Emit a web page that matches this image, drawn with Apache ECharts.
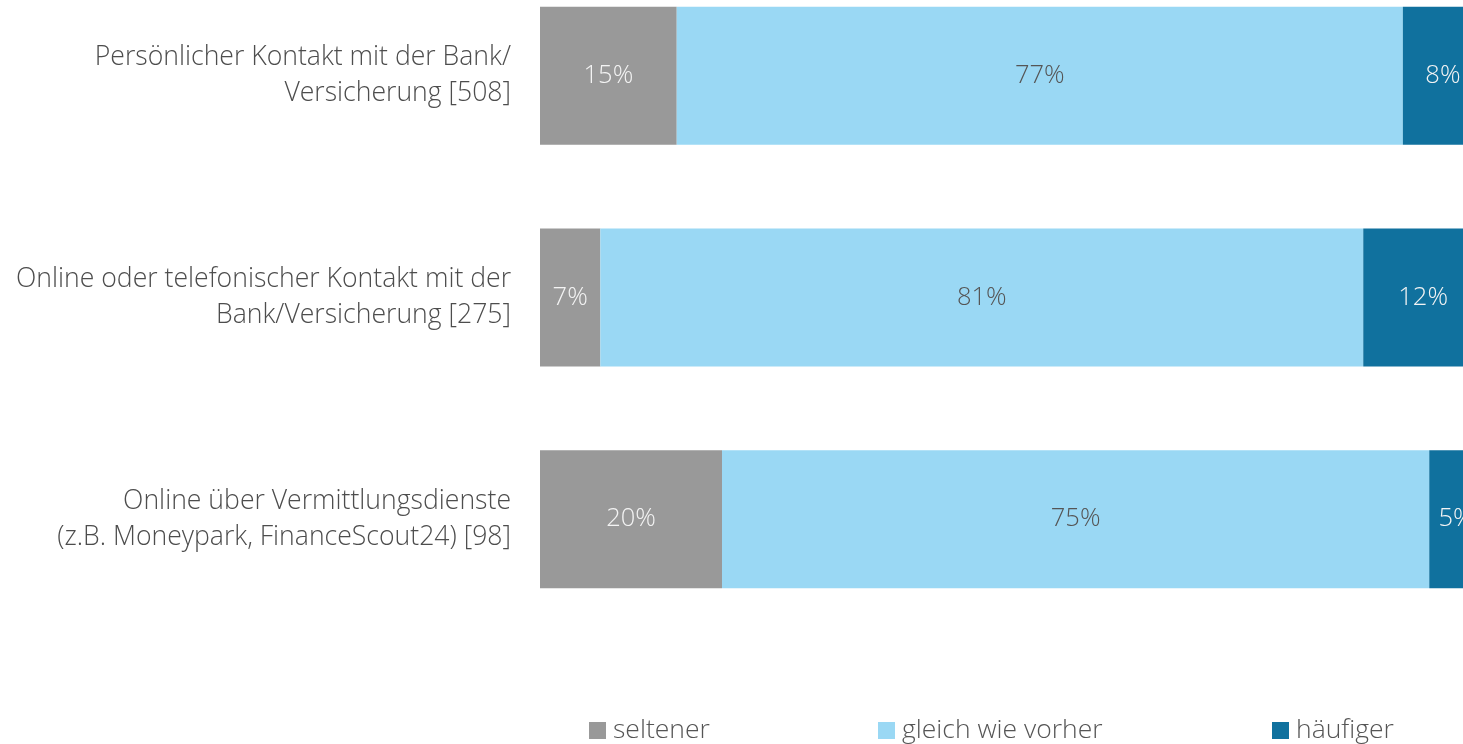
<!DOCTYPE html>
<html>
<head>
<meta charset="utf-8">
<script src="https://cdn.jsdelivr.net/npm/echarts@6/dist/echarts.min.js"></script>
<style>
html,body{margin:0;padding:0;background:#fff;overflow:hidden;width:1463px;height:744px;}
#c{position:absolute;left:0;top:-35px;width:1483px;height:779px;}
</style>
</head>
<body>
<div id="c"></div>
<script>
var categories = [
  'Persönlicher Kontakt mit der Bank/\nVersicherung [508]',
  'Online oder telefonischer Kontakt mit der\nBank/Versicherung [275]',
  'Online über Vermittlungsdienste\n(z.B. Moneypark, FinanceScout24) [98]'
];
var seriesNames = ['seltener', 'gleich wie vorher', 'häufiger'];
var seltener = [14.5, 6.4, 19.3];
var gleich = [77.0, 80.9, 75.0];
var haeufiger = [8.5, 12.7, 5.7];
var seltenerLabels = ['15%', '7%', '20%'];
var gleichLabels = ['77%', '81%', '75%'];
var haeufigerLabels = ['8%', '12%', '5%'];
var colors = ['#999999', '#9ad8f4', '#10719e'];
var labelColors = ['#f4f4f4', '#555555', '#f4f4f4'];

var FONT = '"Open Sans", "Noto Sans", sans-serif';
var chart = echarts.init(document.getElementById('c'), null, {renderer: 'canvas'});

function mkSeries(i, data, labels) {
  return {
    name: seriesNames[i],
    type: 'bar',
    stack: 'total',
    barWidth: 138,
    data: data,
    itemStyle: {color: colors[i]},
    label: {
      show: true,
      position: 'inside',
      color: labelColors[i],
      fontFamily: FONT,
      fontWeight: 300,
      fontSize: 25.5,
      formatter: function (p) { return labels[p.dataIndex]; }
    },
    emphasis: {disabled: true}
  };
}

function mkLegend(name, left) {
  return {
    data: [name],
    left: left,
    top: 752,
    padding: 0,
    itemWidth: 17,
    itemHeight: 17,
    itemGap: 0,
    icon: 'rect',
    textStyle: {color: '#555555', fontFamily: FONT, fontWeight: 300, fontSize: 26.5, padding: [0, 0, 0, 2]},
    selectedMode: false
  };
}

chart.setOption({
  animation: false,
  legend: [mkLegend(seriesNames[0], 589), mkLegend(seriesNames[1], 878), mkLegend(seriesNames[2], 1272)],
  grid: {left: 540, right: 0, top: 0, bottom: 114, containLabel: false},
  xAxis: {
    type: 'value', min: 0, max: 100,
    show: false
  },
  yAxis: {
    type: 'category',
    inverse: true,
    data: categories,
    axisLine: {show: false},
    axisTick: {show: false},
    axisLabel: {
      margin: 29,
      color: '#4d4d4d',
      fontFamily: FONT,
      fontWeight: 300,
      fontSize: 26.6,
      lineHeight: 36,
      align: 'right'
    }
  },
  series: [
    mkSeries(0, seltener, seltenerLabels),
    mkSeries(1, gleich, gleichLabels),
    mkSeries(2, haeufiger, haeufigerLabels)
  ]
});
</script>
</body>
</html>
